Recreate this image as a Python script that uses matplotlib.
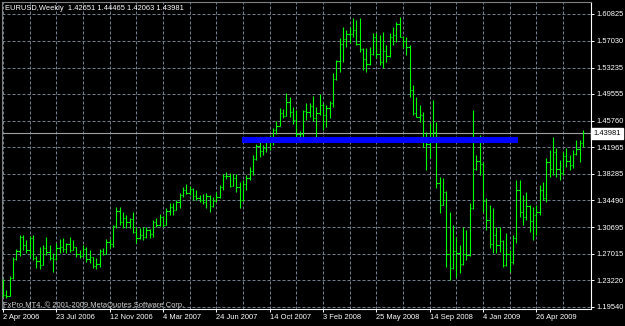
import numpy as np
import pandas as pd
import matplotlib
matplotlib.use("Agg")
import matplotlib.pyplot as plt
import matplotlib.transforms as mtransforms

plt.rcParams['font.family'] = ['Liberation Sans', 'DejaVu Sans']

# weekly EURUSD bars, first week starting 2 Apr 2006
opens = [
    1.2110, 1.2117, 1.2105, 1.2350, 1.2620, 1.2740, 1.2930, 1.2820, 1.2750, 1.2920,
    1.2640, 1.2600, 1.2540, 1.2780, 1.2720, 1.2640, 1.2620, 1.2780, 1.2790, 1.2760,
    1.2830, 1.2750, 1.2790, 1.2700, 1.2660, 1.2760, 1.2620, 1.2650, 1.2530, 1.2560,
    1.2740, 1.2700, 1.2860, 1.2830, 1.3090, 1.3300, 1.3150, 1.3200, 1.3140, 1.3190,
    1.3000, 1.2920, 1.2960, 1.2930, 1.3030, 1.2980, 1.3150, 1.3100, 1.3220, 1.3110,
    1.3300, 1.3360, 1.3320, 1.3430, 1.3520, 1.3600, 1.3560, 1.3610, 1.3510, 1.3480,
    1.3450, 1.3430, 1.3510, 1.3370, 1.3440, 1.3500, 1.3640, 1.3790, 1.3790, 1.3660,
    1.3760, 1.3640, 1.3450, 1.3680, 1.3770, 1.3870, 1.4040, 1.4220, 1.4150, 1.4190,
    1.4270, 1.4340, 1.4450, 1.4500, 1.4680, 1.4640, 1.4840, 1.4700, 1.4580, 1.4390,
    1.4390, 1.4710, 1.4700, 1.4780, 1.4610, 1.4680, 1.4790, 1.4660, 1.4760, 1.4820,
    1.5160, 1.5410, 1.5650, 1.5720, 1.5800, 1.5790, 1.5850, 1.5660, 1.5580, 1.5450,
    1.5370, 1.5520, 1.5750, 1.5520, 1.5400, 1.5560, 1.5480, 1.5760, 1.5780, 1.5940,
    1.5760, 1.5700, 1.5620, 1.5000, 1.4680, 1.4630, 1.4660, 1.4280, 1.4240, 1.4340,
    1.4420, 1.3700, 1.3390, 1.3570, 1.2700, 1.2500, 1.2730, 1.2710, 1.2550, 1.2700,
    1.2680, 1.3340, 1.3900, 1.4000, 1.3960, 1.3440, 1.3180, 1.2840, 1.2960, 1.2820,
    1.2880, 1.2540, 1.2700, 1.2580, 1.2920, 1.3600, 1.3280, 1.3210, 1.3370, 1.3160,
    1.3250, 1.3280, 1.3600, 1.3480, 1.3990, 1.3900, 1.4130, 1.3900, 1.3830, 1.4070,
    1.4010, 1.3950, 1.4100, 1.4180, 1.42651,
]
highs = [
    1.2338, 1.2187, 1.2384, 1.2653, 1.2765, 1.2962, 1.2962, 1.2892, 1.2948, 1.2962,
    1.2666, 1.2793, 1.2821, 1.2934, 1.2821, 1.2709, 1.2850, 1.2906, 1.2920, 1.2850,
    1.2934, 1.2892, 1.2793, 1.2751, 1.2821, 1.2793, 1.2751, 1.2652, 1.2638, 1.2765,
    1.2779, 1.2906, 1.2906, 1.3104, 1.3357, 1.3357, 1.3287, 1.3245, 1.3202, 1.3287,
    1.3075, 1.3061, 1.3075, 1.3075, 1.3047, 1.3174, 1.3202, 1.3259, 1.3230, 1.3343,
    1.3414, 1.3414, 1.3456, 1.3555, 1.3639, 1.3682, 1.3654, 1.3625, 1.3597, 1.3527,
    1.3541, 1.3555, 1.3520, 1.3498, 1.3569, 1.3668, 1.3823, 1.3851, 1.3837, 1.3823,
    1.3823, 1.3710, 1.3738, 1.3809, 1.3921, 1.4090, 1.4250, 1.4274, 1.4232, 1.4302,
    1.4372, 1.4471, 1.4570, 1.4753, 1.4739, 1.4965, 1.4908, 1.4767, 1.4725, 1.4429,
    1.4725, 1.4824, 1.4824, 1.4922, 1.4767, 1.4951, 1.4824, 1.4796, 1.4852, 1.5247,
    1.5430, 1.5740, 1.5895, 1.5853, 1.5895, 1.6022, 1.5994, 1.6022, 1.5599, 1.5599,
    1.5613, 1.5811, 1.5811, 1.5783, 1.5825, 1.5642, 1.5811, 1.5895, 1.5966, 1.6036,
    1.5770, 1.5754, 1.5642, 1.5077, 1.4908, 1.4796, 1.4697, 1.4415, 1.4542, 1.4866,
    1.4556, 1.3780, 1.3766, 1.3580, 1.3287, 1.3104, 1.2934, 1.2821, 1.3075, 1.3033,
    1.3414, 1.4725, 1.4094, 1.4372, 1.3992, 1.3484, 1.3385, 1.3343, 1.3075, 1.3075,
    1.2892, 1.2991, 1.2751, 1.2962, 1.3738, 1.3738, 1.3527, 1.3569, 1.3385, 1.3357,
    1.3385, 1.3668, 1.3710, 1.4048, 1.4161, 1.4344, 1.4189, 1.4020, 1.4133, 1.4189,
    1.4090, 1.4161, 1.4302, 1.4302, 1.44465,
]
lows = [
    1.2093, 1.2074, 1.2102, 1.2342, 1.2610, 1.2666, 1.2751, 1.2709, 1.2652, 1.2610,
    1.2497, 1.2483, 1.2540, 1.2680, 1.2610, 1.2441, 1.2610, 1.2709, 1.2723, 1.2709,
    1.2723, 1.2745, 1.2652, 1.2638, 1.2652, 1.2582, 1.2568, 1.2497, 1.2483, 1.2511,
    1.2680, 1.2695, 1.2779, 1.2793, 1.3061, 1.3104, 1.3061, 1.3061, 1.3061, 1.2991,
    1.2850, 1.2910, 1.2892, 1.2925, 1.2920, 1.2934, 1.3075, 1.3095, 1.3075, 1.3105,
    1.3245, 1.3245, 1.3315, 1.3343, 1.3498, 1.3541, 1.3527, 1.3456, 1.3456, 1.3428,
    1.3400, 1.3343, 1.3287, 1.3360, 1.3430, 1.3490, 1.3597, 1.3752, 1.3639, 1.3654,
    1.3569, 1.3343, 1.3440, 1.3597, 1.3738, 1.3809, 1.4020, 1.4063, 1.4090, 1.4133,
    1.4161, 1.4232, 1.4387, 1.4500, 1.4612, 1.4640, 1.4626, 1.4528, 1.4344, 1.4302,
    1.4344, 1.4584, 1.4626, 1.4570, 1.4344, 1.4654, 1.4443, 1.4486, 1.4612, 1.4767,
    1.5150, 1.5261, 1.5402, 1.5613, 1.5670, 1.5754, 1.5642, 1.5543, 1.5289, 1.5261,
    1.5360, 1.5501, 1.5458, 1.5360, 1.5317, 1.5402, 1.5472, 1.5642, 1.5684, 1.5754,
    1.5599, 1.5501, 1.4908, 1.4654, 1.4626, 1.4556, 1.4203, 1.3879, 1.4048, 1.4302,
    1.3625, 1.3273, 1.3380, 1.2511, 1.2328, 1.2490, 1.2370, 1.2427, 1.2540, 1.2610,
    1.2670, 1.3330, 1.3879, 1.3809, 1.3287, 1.3033, 1.2779, 1.2709, 1.2709, 1.2723,
    1.2511, 1.2530, 1.2441, 1.2560, 1.2850, 1.3216, 1.3104, 1.3174, 1.3005, 1.2892,
    1.2962, 1.3245, 1.3456, 1.3428, 1.3780, 1.3809, 1.3780, 1.3738, 1.3809, 1.3921,
    1.3879, 1.3907, 1.4090, 1.3992, 1.42063,
]
closes = [
    1.2117, 1.2105, 1.2350, 1.2620, 1.2740, 1.2930, 1.2820, 1.2750, 1.2920, 1.2640,
    1.2600, 1.2540, 1.2780, 1.2720, 1.2640, 1.2620, 1.2780, 1.2790, 1.2760, 1.2830,
    1.2750, 1.2790, 1.2700, 1.2660, 1.2760, 1.2620, 1.2650, 1.2530, 1.2560, 1.2740,
    1.2700, 1.2860, 1.2830, 1.3090, 1.3300, 1.3150, 1.3200, 1.3140, 1.3190, 1.3000,
    1.2920, 1.2960, 1.2930, 1.3030, 1.2980, 1.3150, 1.3100, 1.3220, 1.3110, 1.3300,
    1.3360, 1.3320, 1.3430, 1.3520, 1.3600, 1.3560, 1.3610, 1.3510, 1.3480, 1.3450,
    1.3430, 1.3510, 1.3370, 1.3440, 1.3500, 1.3640, 1.3790, 1.3790, 1.3660, 1.3760,
    1.3640, 1.3450, 1.3680, 1.3770, 1.3870, 1.4040, 1.4220, 1.4150, 1.4190, 1.4270,
    1.4340, 1.4450, 1.4500, 1.4680, 1.4640, 1.4840, 1.4700, 1.4580, 1.4390, 1.4390,
    1.4710, 1.4700, 1.4780, 1.4610, 1.4680, 1.4790, 1.4660, 1.4760, 1.4820, 1.5160,
    1.5410, 1.5650, 1.5720, 1.5800, 1.5790, 1.5850, 1.5660, 1.5580, 1.5450, 1.5370,
    1.5520, 1.5750, 1.5520, 1.5400, 1.5560, 1.5480, 1.5760, 1.5780, 1.5940, 1.5760,
    1.5700, 1.5620, 1.5000, 1.4680, 1.4630, 1.4660, 1.4280, 1.4240, 1.4340, 1.4420,
    1.3700, 1.3390, 1.3570, 1.2700, 1.2500, 1.2730, 1.2710, 1.2550, 1.2700, 1.2680,
    1.3340, 1.3900, 1.4000, 1.3960, 1.3440, 1.3180, 1.2840, 1.2960, 1.2820, 1.2880,
    1.2540, 1.2700, 1.2580, 1.2920, 1.3600, 1.3280, 1.3210, 1.3370, 1.3160, 1.3250,
    1.3280, 1.3600, 1.3480, 1.3990, 1.3900, 1.4130, 1.3900, 1.3830, 1.4070, 1.4010,
    1.3950, 1.4100, 1.4180, 1.4260, 1.43981,
]

price_ticks = [1.60825, 1.57030, 1.53235, 1.49555, 1.45760, 1.41965,
               1.38285, 1.34490, 1.30695, 1.27015, 1.23220, 1.19540]
date_labels = ["2 Apr 2006", "23 Jul 2006", "12 Nov 2006", "4 Mar 2007",
               "24 Jun 2007", "14 Oct 2007", "3 Feb 2008", "25 May 2008",
               "14 Sep 2008", "4 Jan 2009", "26 Apr 2009"]

# blue trend line drawn on the chart
level_price = 1.4298
level_from = "2007-08-19"
level_to = "2009-03-15"

title = "EURUSD,Weekly  1.42651 1.44465 1.42063 1.43981"
copyright_text = "FxPro MT4, \u00a9 2001-2009 MetaQuotes Software Corp."

weeks = pd.date_range("2006-04-02", periods=len(opens), freq="7D")
x = np.arange(len(opens))

W, H = 625, 326
fig = plt.figure(figsize=(W / 100, H / 100), dpi=100, facecolor="black")
ax = fig.add_axes([2 / W, 17 / H, 589 / W, 307 / H])
ax.set_facecolor("black")

bar_col = "#00ff00"
lw = 0.8
ax.vlines(x, lows, highs, color=bar_col, lw=lw, zorder=3)
ax.hlines(opens, x - 0.4, x, color=bar_col, lw=lw, zorder=3)
ax.hlines(closes, x, x + 0.4, color=bar_col, lw=lw, zorder=3)

# trend level
lx0 = weeks.get_indexer([pd.Timestamp(level_from)], method="nearest")[0] - 0.3
lx1 = weeks.get_indexer([pd.Timestamp(level_to)], method="nearest")[0] + 0.6
ax.hlines(level_price, lx0, lx1, color="#0000ff", lw=4.4, zorder=4)

# current price line
last = closes[-1]
ax.axhline(last, color="#a0a0a0", lw=0.8, zorder=2)

ax.set_xlim(-0.3, 176.4)
ax.set_ylim(1.19191, 1.62478)

# axes
ax.yaxis.tick_right()
ax.set_yticks(price_ticks, [f"{p:.5f}" for p in price_ticks])
label_pos = weeks.get_indexer(pd.to_datetime(date_labels, format="%d %b %Y"))
ax.set_xticks(label_pos, date_labels)
ax.set_xticks(np.arange(0, len(opens), 8), minor=True)
for t in ax.get_xticklabels():
    t.set_ha("left")

ax.tick_params(axis="y", colors="white", labelcolor="white", length=2.5,
               width=0.7, pad=1.2, labelsize=5.4)
ax.tick_params(axis="x", colors="white", labelcolor="white", length=2.5,
               width=0.7, pad=1.2, labelsize=5.4)
ax.tick_params(axis="x", which="minor", length=0)

ax.grid(True, which="both", axis="x", color="#6f7f8f", lw=0.72,
        linestyle=(0, (3, 2)), zorder=1)
ax.grid(True, which="major", axis="y", color="#6f7f8f", lw=0.72,
        linestyle=(0, (3, 2)), zorder=1)
ax.set_axisbelow(True)

for s in ["right", "bottom"]:
    ax.spines[s].set_color("white")
    ax.spines[s].set_linewidth(0.8)
for s in ["left", "top"]:
    ax.spines[s].set_color("#808080")
    ax.spines[s].set_linewidth(0.8)

# current price tag on the price scale
trans = mtransforms.blended_transform_factory(ax.transAxes, ax.transData)
ax.text(1.004, last, f"{last:.5f}", transform=trans, fontsize=5.4,
        color="black", va="center", ha="left", clip_on=False, zorder=6,
        bbox=dict(boxstyle="square,pad=0.25", fc="white", ec="white"))

fig.text(5 / W, 1 - 9 / H, title, color="white", fontsize=5.4,
         va="center", ha="left")
fig.text(3 / W, 1 - 305 / H, copyright_text, color="#d0d0d0", fontsize=5.4,
         va="center", ha="left")

fig.savefig("out.png", dpi=100, facecolor="black")
